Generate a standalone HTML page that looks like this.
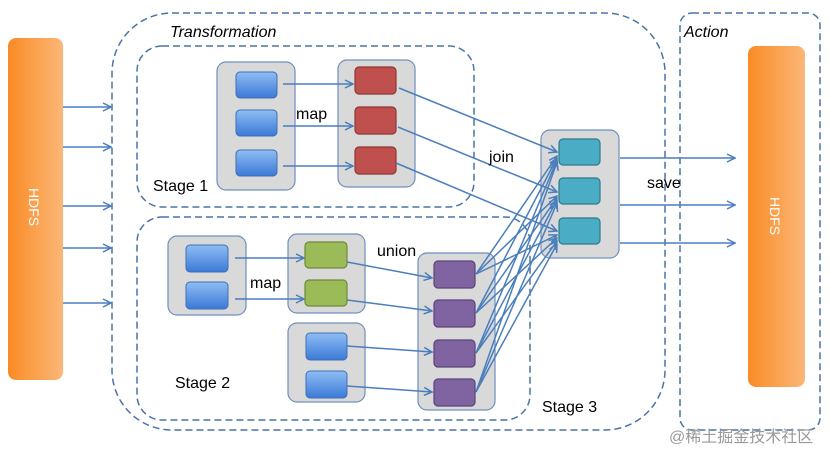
<!DOCTYPE html>
<html><head><meta charset="utf-8"><style>
html,body{margin:0;padding:0;background:#fff;width:830px;height:450px;overflow:hidden}
svg text{font-family:"Liberation Sans","DejaVu Sans",sans-serif}
</style></head><body>
<svg width="830" height="450" viewBox="0 0 830 450" xmlns="http://www.w3.org/2000/svg">
<defs>
<linearGradient id="og" x1="0" x2="1"><stop offset="0" stop-color="#f98b25"/><stop offset="1" stop-color="#fbb778"/></linearGradient>
<linearGradient id="bg" x1="0" y1="0" x2="0" y2="1"><stop offset="0" stop-color="#8fbdf4"/><stop offset="1" stop-color="#3b79d6"/></linearGradient>
<marker id="ah" markerWidth="10" markerHeight="10" refX="9" refY="5" orient="auto" markerUnits="userSpaceOnUse"><path d="M1,1 L9,5 L1,9" fill="none" stroke="#4a7ebd" stroke-width="1.5"/></marker>
</defs>
<g fill="none" stroke="#4a74a8" stroke-width="1.5" stroke-dasharray="7,4">
<rect x="112" y="13" width="553" height="417" rx="60"/>
<rect x="137" y="46" width="337" height="161" rx="25"/>
<rect x="137" y="217" width="393" height="203" rx="25"/>
<rect x="680" y="13" width="140" height="417" rx="12"/>
</g>
<rect x="8" y="38" width="55" height="342" rx="8" fill="url(#og)"/>
<rect x="748" y="46" width="57" height="341" rx="8" fill="url(#og)"/>
<text transform="translate(29,207) rotate(90)" fill="#fff" font-size="14" text-anchor="middle">HDFS</text>
<text transform="translate(770,216) rotate(90)" fill="#fff" font-size="14" text-anchor="middle">HDFS</text>
<g fill="#d9d9d9" stroke="#6f8fc0" stroke-width="1.2">
<rect x="217" y="62" width="78" height="128" rx="9"/>
<rect x="338" y="60" width="77" height="127" rx="9"/>
<rect x="541" y="130" width="78" height="128" rx="9"/>
<rect x="168" y="236" width="78" height="79" rx="9"/>
<rect x="288" y="234" width="77" height="79" rx="9"/>
<rect x="288" y="323" width="77" height="79" rx="9"/>
<rect x="418" y="253" width="77" height="157" rx="9"/>
</g>
<g fill="url(#bg)" stroke="#3e6fb8" stroke-width="1">
<rect x="236" y="72" width="41" height="26" rx="4"/>
<rect x="236" y="110" width="41" height="26" rx="4"/>
<rect x="236" y="150" width="41" height="26" rx="4"/>
<rect x="186" y="245" width="42" height="27" rx="4"/>
<rect x="186" y="282" width="42" height="27" rx="4"/>
<rect x="306" y="333" width="41" height="27" rx="4"/>
<rect x="306" y="371" width="41" height="27" rx="4"/>
</g>
<g fill="#c0504d" stroke="#8c3836" stroke-width="1.2">
<rect x="355" y="67" width="41" height="27" rx="4"/>
<rect x="355" y="107" width="41" height="27" rx="4"/>
<rect x="355" y="147" width="41" height="27" rx="4"/>
</g>
<g fill="#4bacc6" stroke="#2f7a8c" stroke-width="1.2">
<rect x="559" y="139" width="41" height="26" rx="4"/>
<rect x="559" y="178" width="41" height="26" rx="4"/>
<rect x="559" y="218" width="41" height="26" rx="4"/>
</g>
<g fill="#9bbb59" stroke="#6e8a3a" stroke-width="1.2">
<rect x="305" y="242" width="42" height="26" rx="4"/>
<rect x="305" y="280" width="42" height="26" rx="4"/>
</g>
<g fill="#8064a2" stroke="#5a4378" stroke-width="1.2">
<rect x="434" y="261" width="41" height="27" rx="4"/>
<rect x="434" y="300" width="41" height="27" rx="4"/>
<rect x="434" y="340" width="41" height="27" rx="4"/>
<rect x="434" y="379" width="41" height="27" rx="4"/>
</g>
<g stroke="#4a7ebd" stroke-width="1.5" marker-end="url(#ah)">
<line x1="63" y1="107" x2="111" y2="107"/>
<line x1="63" y1="147" x2="111" y2="147"/>
<line x1="63" y1="206" x2="111" y2="206"/>
<line x1="63" y1="248" x2="111" y2="248"/>
<line x1="63" y1="303" x2="111" y2="303"/>
<line x1="283" y1="84" x2="353" y2="84"/>
<line x1="283" y1="126" x2="353" y2="126"/>
<line x1="283" y1="166" x2="353" y2="166"/>
<line x1="235" y1="258" x2="304" y2="258"/>
<line x1="235" y1="299" x2="304" y2="299"/>
<line x1="347" y1="262" x2="432" y2="278"/>
<line x1="347" y1="300" x2="432" y2="311"/>
<line x1="347" y1="346" x2="432" y2="352"/>
<line x1="347" y1="386" x2="432" y2="392"/>
<line x1="399" y1="88" x2="557" y2="152"/>
<line x1="398" y1="127" x2="557" y2="192"/>
<line x1="396" y1="163" x2="557" y2="231"/>
<line x1="476" y1="274" x2="557" y2="156"/><line x1="476" y1="274" x2="557" y2="196"/><line x1="476" y1="274" x2="557" y2="235"/>
<line x1="476" y1="313" x2="557" y2="158"/><line x1="476" y1="313" x2="557" y2="198"/><line x1="476" y1="313" x2="557" y2="238"/>
<line x1="476" y1="353" x2="557" y2="160"/><line x1="476" y1="353" x2="557" y2="200"/><line x1="476" y1="353" x2="557" y2="241"/>
<line x1="476" y1="392" x2="557" y2="162"/><line x1="476" y1="392" x2="557" y2="203"/><line x1="476" y1="392" x2="557" y2="244"/>
<line x1="620" y1="158" x2="735" y2="158"/>
<line x1="620" y1="205" x2="735" y2="205"/>
<line x1="620" y1="243" x2="735" y2="243"/>
</g>
<g fill="#000" font-size="16">
<text x="170" y="37" font-style="italic">Transformation</text>
<text x="684" y="37" font-style="italic">Action</text>
<text x="296" y="119">map</text>
<text x="250" y="288">map</text>
<text x="377" y="256">union</text>
<text x="489" y="162">join</text>
<text x="647" y="188">save</text>
<text x="153" y="191">Stage 1</text>
<text x="175" y="388">Stage 2</text>
<text x="542" y="412">Stage 3</text>
</g>
<text x="669" y="442" fill="#9a9a9a" font-size="16" font-family="'Liberation Sans','Noto Sans CJK SC',sans-serif">@稀土掘金技术社区</text>
</svg>
</body></html>
